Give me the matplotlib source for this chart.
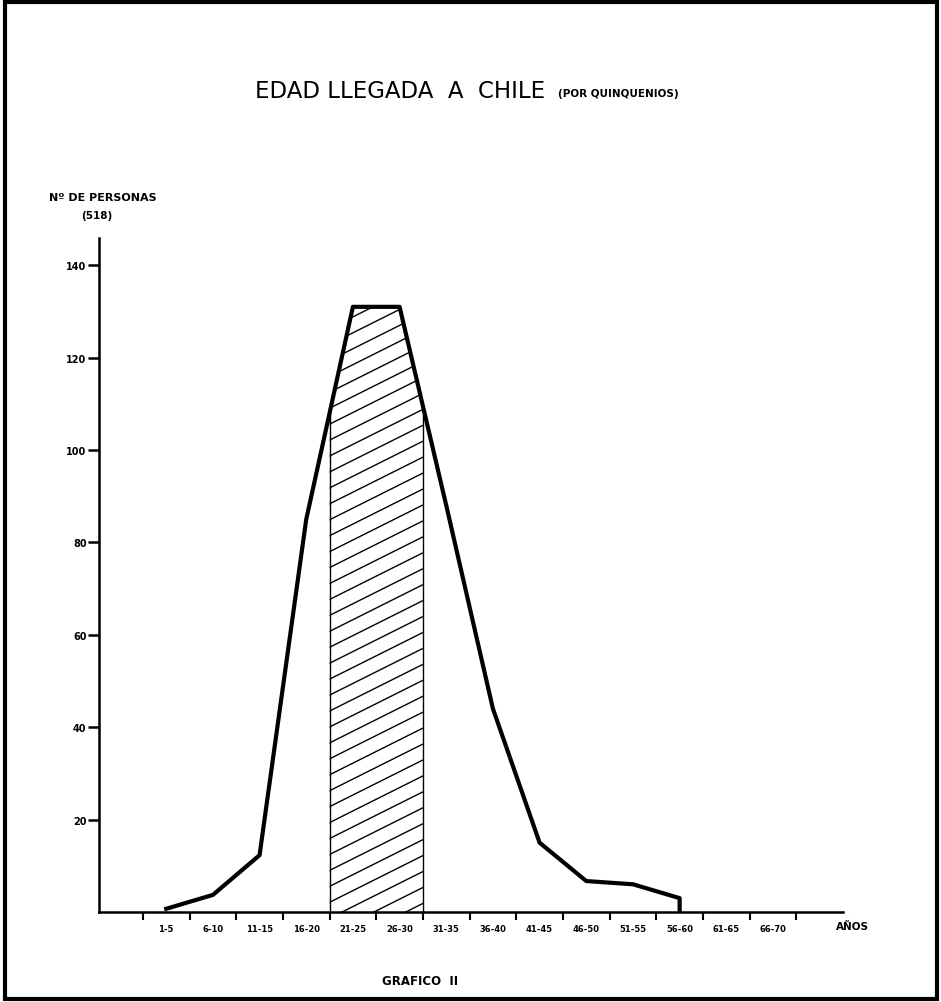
import matplotlib

matplotlib.use("Agg")
import matplotlib.pyplot as plt
import numpy as np
from matplotlib.patches import Polygon, Rectangle

# data
age_groups = ["1-5", "6-10", "11-15", "16-20", "21-25", "26-30", "31-35",
              "36-40", "41-45", "46-50", "51-55", "56-60", "61-65", "66-70"]
persons = [0.7, 3.7, 12.3, 85, 131, 131, 88, 44, 15, 6.7, 6.0, 3.0]
y_ticks = [20, 40, 60, 80, 100, 120, 140]
hatched = ("21-25", "26-30")

W, H = 941, 1003
fig = plt.figure(figsize=(W / 100, H / 100), dpi=100)
ax = fig.add_axes([99 / W, (H - 913) / H, (843 - 99) / W, (913 - 239) / H])

# category k occupies [k+1, k+2]; points at the centres
centers = np.arange(len(age_groups)) + 1.5
xs = centers[: len(persons)]
ys = np.array(persons, dtype=float)

# hatched block under the curve for the modal groups
i0 = age_groups.index(hatched[0])
i1 = age_groups.index(hatched[1])
xa, xb = i0 + 1.0, i1 + 2.0
inside = (xs > xa) & (xs < xb)
px = np.concatenate([[xa], xs[inside], [xb]])
py = np.concatenate([[np.interp(xa, xs, ys)], ys[inside], [np.interp(xb, xs, ys)]])
poly = Polygon(np.column_stack([np.r_[xa, px, xb], np.r_[0, py, 0]]),
               closed=True, facecolor="none", edgecolor="none")
ax.add_patch(poly)
slope = 0.5 * 46.7 / 4.62
for c in np.arange(-60, 150, 3.45):
    hl, = ax.plot([xa - 1, xb + 1], [c - slope, c + slope * (xb - xa + 1)],
                  color="black", lw=1.0, zorder=2)
    hl.set_clip_path(poly)
ax.plot([xa, xa], [0, py[0]], color="black", lw=1.0, zorder=3)
ax.plot([xb, xb], [0, py[-1]], color="black", lw=1.0, zorder=3)

# frequency polygon, dropping to the axis at the last group
ax.plot(np.r_[xs, xs[-1]], np.r_[ys, 0], color="black", lw=3.0,
        solid_joinstyle="round", zorder=4)

ax.set_xlim(0.06, 16.0)
ax.set_ylim(0, 145.9)
for s in ("top", "right"):
    ax.spines[s].set_visible(False)
ax.spines["left"].set_linewidth(1.8)
ax.spines["bottom"].set_linewidth(1.8)

ax.set_yticks(y_ticks)
ax.set_yticklabels([str(v) for v in y_ticks], fontsize=7, fontweight="bold")
ax.tick_params(axis="y", direction="out", length=8, width=1.8, pad=1)

ax.set_xticks(np.arange(1, len(age_groups) + 2))
ax.set_xticklabels([])
ax.set_xticks(centers, minor=True)
ax.set_xticklabels(age_groups, minor=True, fontsize=6, fontweight="bold")
ax.tick_params(axis="x", which="major", direction="out", length=6, width=1.5)
ax.tick_params(axis="x", which="minor", length=0, pad=9)

# texts
fig.text(255 / W, 1 - 92 / H, "EDAD LLEGADA  A  CHILE", fontsize=16.5,
         ha="left", va="center")
fig.text(558 / W, 1 - 94 / H, "(POR QUINQUENIOS)", fontsize=7.5,
         fontweight="bold", ha="left", va="center")
fig.text(103 / W, 1 - 198 / H, "Nº DE PERSONAS", fontsize=8,
         fontweight="bold", ha="center", va="center")
fig.text(97 / W, 1 - 216 / H, "(518)", fontsize=7.5,
         fontweight="bold", ha="center", va="center")
fig.text(852 / W, 1 - 927 / H, "AÑOS", fontsize=7.5,
         fontweight="bold", ha="center", va="center")
fig.text(420 / W, 1 - 982 / H, "GRAFICO  II", fontsize=8.5,
         fontweight="bold", ha="center", va="center")

# page frame
fig.patches.append(Rectangle((5 / W, 3 / H), (937 - 5) / W, (1000 - 3) / H,
                             transform=fig.transFigure, fill=False,
                             edgecolor="black", lw=3))

fig.savefig("out.png", dpi=100)
